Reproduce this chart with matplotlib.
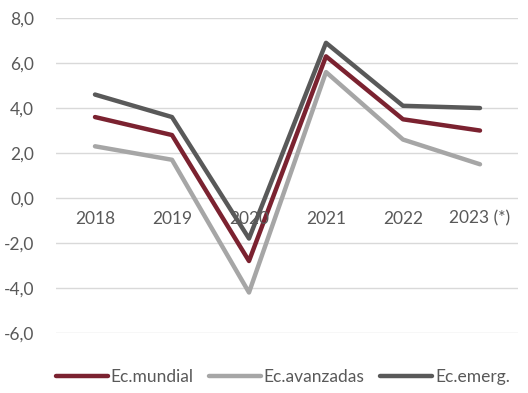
import numpy as np
import matplotlib
matplotlib.use("Agg")
import matplotlib.pyplot as plt

plt.rcParams["font.family"] = ["Lato", "DejaVu Sans"]

# ---- data ----
years = ["2018", "2019", "2020", "2021", "2022", "2023 (*)"]
mundial = [3.6, 2.8, -2.8, 6.3, 3.5, 3.0]
avanzadas = [2.3, 1.7, -4.2, 5.6, 2.6, 1.5]
emergentes = [4.6, 3.6, -1.8, 6.9, 4.1, 4.0]

TXT = "#595959"
FS = 12.5

DPI = 100
fig = plt.figure(figsize=(528 / DPI, 393 / DPI), dpi=DPI, facecolor="white")
ax = fig.add_axes([0.107, 0.1527, 0.875, 0.8013])

x = np.arange(len(years))
ax.plot(x, mundial, color="#7B2230", lw=3.2, label="Ec.mundial", solid_capstyle="round")
ax.plot(x, avanzadas, color="#A6A6A6", lw=3.2, label="Ec.avanzadas", solid_capstyle="round")
ax.plot(x, emergentes, color="#595959", lw=3.2, label="Ec.emerg.", solid_capstyle="round")

ax.set_xlim(-0.5, len(years) - 0.5)
ax.set_ylim(-6, 8)
ax.set_yticks(np.arange(-6, 8.1, 2))
ax.set_yticklabels([f"{v:.1f}".replace(".", ",") for v in np.arange(-6, 8.1, 2)])
ax.yaxis.grid(True, color="#D9D9D9", lw=1)
ax.set_axisbelow(True)

ax.set_xticks(x)
ax.set_xticklabels(years)
ax.spines["bottom"].set_position(("data", 0))
for s in ax.spines.values():
    s.set_visible(False)
ax.tick_params(axis="both", length=0, colors=TXT, labelsize=FS)
ax.tick_params(axis="x", pad=9)
ax.tick_params(axis="y", pad=16)
ax.xaxis.set_zorder(5)

leg = ax.legend(loc="lower center", bbox_to_anchor=(0.49, -0.215), ncol=3,
                frameon=False, fontsize=FS, handlelength=3.0,
                handletextpad=0.15, columnspacing=0.9)
for t in leg.get_texts():
    t.set_color(TXT)

fig.savefig("out.png", dpi=DPI, facecolor="white")
